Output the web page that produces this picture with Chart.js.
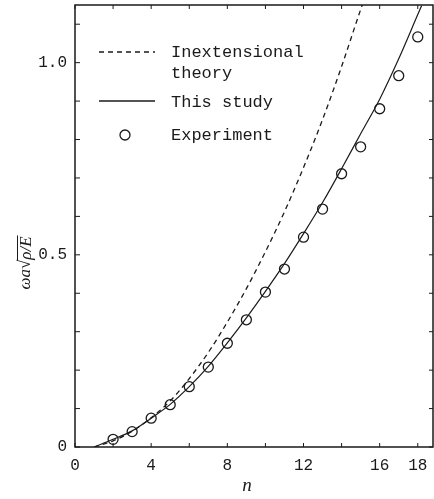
<!DOCTYPE html>
<html>
<head>
<meta charset="utf-8">
<script src="https://cdn.jsdelivr.net/npm/chart.js@4.4.0/dist/chart.umd.min.js"></script>
<style>
  html, body { margin: 0; padding: 0; background: #fff; }
  #wrap { width: 434px; height: 499px; position: relative; }
</style>
</head>
<body>
<div id="wrap"><canvas id="grafico"></canvas></div>
<script>
// valores
const nTeoria = [1, 2, 3, 4, 5, 6, 7, 8, 9, 10, 11, 12, 13, 14, 15, 15.1];
const inextensional = [0, 0.016, 0.041, 0.076, 0.12, 0.178, 0.246, 0.325, 0.412,
  0.508, 0.612, 0.727, 0.852, 0.99, 1.138, 1.152];

const nEstudio = [1, 2, 3, 4, 5, 6, 7, 8, 9, 10, 11, 12, 13, 14, 15, 16, 17, 18, 18.2];
const esteEstudio = [0, 0.02, 0.042, 0.075, 0.111, 0.157, 0.21, 0.271, 0.336, 0.405,
  0.477, 0.555, 0.636, 0.724, 0.815, 0.905, 1.01, 1.125, 1.148];

const nExp = [2, 3, 4, 5, 6, 7, 8, 9, 10, 11, 12, 13, 14, 15, 16, 17, 18];
const experimento = [0.02, 0.04, 0.075, 0.11, 0.157, 0.208, 0.27, 0.331, 0.403, 0.463,
  0.546, 0.619, 0.711, 0.781, 0.88, 0.966, 1.067];

const etiquetasX = [0, 4, 8, 12, 16, 18];
const etiquetasY = { '0': '0', '0.5': '0.5', '1': '1.0' };

const tinta = '#1a1a1a';
const mono = '"Liberation Mono", "DejaVu Sans Mono", monospace';
const serif = '"Liberation Serif", "DejaVu Serif", serif';

const pares = (xs, ys) => xs.map((x, i) => ({ x: x, y: ys[i] }));

// marco, ticks hacia dentro, leyenda y titulos de ejes
const marco = {
  id: 'marco',
  afterDraw(chart) {
    const { ctx, chartArea: a, scales: { x, y } } = chart;
    ctx.save();
    ctx.strokeStyle = tinta;
    ctx.lineWidth = 1.5;
    ctx.strokeRect(a.left, a.top, a.right - a.left, a.bottom - a.top);

    ctx.lineWidth = 1;
    ctx.beginPath();
    x.ticks.forEach(t => {
      const px = x.getPixelForValue(t.value);
      ctx.moveTo(px, a.bottom); ctx.lineTo(px, a.bottom - 4);
      ctx.moveTo(px, a.top); ctx.lineTo(px, a.top + 4);
    });
    y.ticks.forEach(t => {
      const py = y.getPixelForValue(t.value);
      ctx.moveTo(a.left, py); ctx.lineTo(a.left + 5, py);
      ctx.moveTo(a.right, py); ctx.lineTo(a.right - 4, py);
    });
    ctx.stroke();

    // leyenda
    ctx.fillStyle = tinta;
    ctx.font = '17px ' + mono;
    ctx.textBaseline = 'middle';
    ctx.lineWidth = 1.3;
    ctx.setLineDash([5, 4]);
    ctx.beginPath(); ctx.moveTo(99, 52); ctx.lineTo(155, 52); ctx.stroke();
    ctx.setLineDash([]);
    ctx.beginPath(); ctx.moveTo(99, 101); ctx.lineTo(155, 101); ctx.stroke();
    ctx.beginPath(); ctx.arc(125, 135, 5, 0, Math.PI * 2); ctx.stroke();
    ctx.fillText('Inextensional', 171, 52);
    ctx.fillText('theory', 171, 73);
    ctx.fillText('This study', 171, 102);
    ctx.fillText('Experiment', 171, 135);

    // titulo eje x
    ctx.font = 'italic 19px ' + serif;
    ctx.textAlign = 'center';
    ctx.fillText('n', 247, 486);

    // titulo eje y: ωa√(ρ/E)
    ctx.translate(26, 263);
    ctx.rotate(-Math.PI / 2);
    ctx.textAlign = 'left';
    ctx.font = 'italic 17px ' + serif;
    const p1 = 'ωa', p3 = 'ρ/E';
    const w1 = ctx.measureText(p1).width;
    ctx.font = '17px ' + serif;
    const w2 = ctx.measureText('√').width;
    ctx.font = 'italic 17px ' + serif;
    const w3 = ctx.measureText(p3).width;
    let x0 = -(w1 + w2 + w3) / 2;
    ctx.fillText(p1, x0, 0);
    x0 += w1;
    ctx.font = '17px ' + serif;
    ctx.fillText('√', x0, 0);
    x0 += w2;
    ctx.font = 'italic 17px ' + serif;
    ctx.fillText(p3, x0, 1);
    ctx.lineWidth = 1;
    ctx.beginPath();
    ctx.moveTo(x0 - 1, -8.5); ctx.lineTo(x0 + w3 + 1, -8.5);
    ctx.stroke();
    ctx.restore();
  }
};

new Chart(document.getElementById('grafico').getContext('2d'), {
  type: 'line',
  data: {
    datasets: [{
      data: pares(nTeoria, inextensional),
      borderColor: tinta,
      borderWidth: 1.3,
      borderDash: [5, 4],
      pointRadius: 0,
      cubicInterpolationMode: 'monotone',
      fill: false
    }, {
      data: pares(nEstudio, esteEstudio),
      borderColor: tinta,
      borderWidth: 1.2,
      pointRadius: 0,
      cubicInterpolationMode: 'monotone',
      fill: false
    }, {
      data: pares(nExp, experimento),
      showLine: false,
      pointStyle: 'circle',
      pointRadius: 5,
      pointBorderWidth: 1.3,
      pointBorderColor: tinta,
      pointBackgroundColor: 'rgba(0,0,0,0)'
    }]
  },
  options: {
    responsive: true,
    maintainAspectRatio: false,
    devicePixelRatio: 1,
    animation: false,
    layout: { autoPadding: false, padding: { top: 5, right: 1, left: 0, bottom: 0 } },
    plugins: {
      legend: { display: false },
      tooltip: { enabled: false }
    },
    scales: {
      x: {
        type: 'linear',
        min: 0,
        max: 18.8,
        afterFit: s => {
          s.height = 52;
          s.paddingLeft = 0; s.paddingRight = 0;
        },
        grid: { drawOnChartArea: false, drawTicks: true, tickLength: 5, color: 'rgba(0,0,0,0)' },
        border: { display: false },
        ticks: {
          stepSize: 2,
          includeBounds: false,
          autoSkip: false,
          maxRotation: 0,
          padding: 4,
          color: tinta,
          font: { family: mono, size: 16 },
          callback: v => etiquetasX.includes(v) ? String(v) : ''
        }
      },
      y: {
        min: 0,
        max: 1.15,
        afterFit: s => {
          s.width = 75;
          s.paddingTop = 0; s.paddingBottom = 0;
        },
        grid: { display: false, drawTicks: false },
        border: { display: false },
        ticks: {
          stepSize: 0.1,
          includeBounds: false,
          autoSkip: false,
          padding: 8,
          color: tinta,
          font: { family: mono, size: 16 },
          callback: v => etiquetasY[String(Math.round(v * 10) / 10)] || ''
        }
      }
    }
  },
  plugins: [marco]
});
</script>
</body>
</html>
